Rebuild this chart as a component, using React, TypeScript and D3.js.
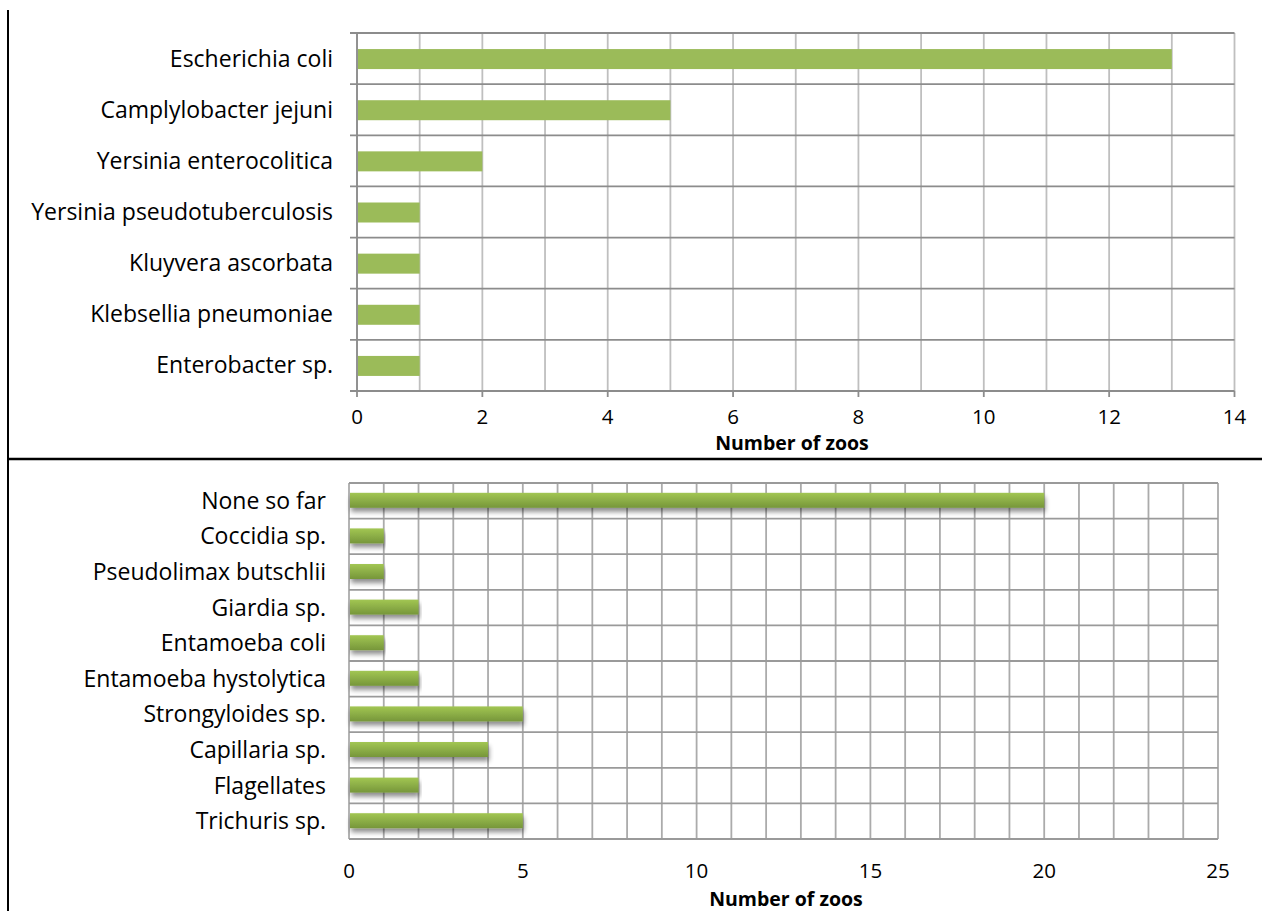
import React from "react";
import * as d3 from "d3";

const bacteriaCategories = [
  "Escherichia coli",
  "Camplylobacter jejuni",
  "Yersinia enterocolitica",
  "Yersinia pseudotuberculosis",
  "Kluyvera ascorbata",
  "Klebsellia pneumoniae",
  "Enterobacter sp.",
];
const bacteriaValues = [13, 5, 2, 1, 1, 1, 1];
const bacteriaTicks = [0, 2, 4, 6, 8, 10, 12, 14];

const parasiteCategories = [
  "None so far",
  "Coccidia sp.",
  "Pseudolimax butschlii",
  "Giardia sp.",
  "Entamoeba coli",
  "Entamoeba hystolytica",
  "Strongyloides sp.",
  "Capillaria sp.",
  "Flagellates",
  "Trichuris sp.",
];
const parasiteValues = [20, 1, 1, 2, 1, 2, 5, 4, 2, 5];
const parasiteTicks = [0, 5, 10, 15, 20, 25];

const axisTitle = "Number of zoos";
const FONT = "'Open Sans', Lato, sans-serif";
const LABEL_SIZE = 23;
const TICK_SIZE = 20.5;
const TITLE_SIZE = 19.5;

function TopChart() {
  const left = 357, right = 1234.5, top = 33, bottom = 391;
  const x = d3.scaleLinear().domain([0, 14]).range([left, right]);
  const y = d3.scaleBand().domain(bacteriaCategories).range([top, bottom]).paddingInner(0).paddingOuter(0);
  const minor = d3.range(0, 15, 1);
  const barH = 20;
  return (
    <g>
      {minor.map((v) => (
        <line key={"v" + v} x1={x(v)} x2={x(v)} y1={top} y2={bottom} stroke="#bfbfbf" strokeWidth={1.8} />
      ))}
      {bacteriaCategories.map((c) => (
        <line key={"h" + c} x1={left - 7} x2={right} y1={y(c)!} y2={y(c)!} stroke="#8c8c8c" strokeWidth={1.8} />
      ))}
      <line x1={left - 7} x2={right} y1={bottom} y2={bottom} stroke="#8c8c8c" strokeWidth={1.8} />
      <line x1={left} x2={left} y1={top} y2={bottom} stroke="#8c8c8c" strokeWidth={1.8} />
      {bacteriaTicks.map((t) => (
        <line key={"t" + t} x1={x(t)} x2={x(t)} y1={bottom} y2={bottom + 6} stroke="#8c8c8c" strokeWidth={1.8} />
      ))}
      {bacteriaCategories.map((c, i) => (
        <rect key={"b" + c} x={x(0) + 1} y={y(c)! + y.bandwidth() / 2 - barH / 2 + 0.5} width={x(bacteriaValues[i]) - x(0) - 1} height={barH} fill="#9bbb59" />
      ))}
      {bacteriaCategories.map((c) => (
        <text key={"l" + c} x={333} y={y(c)! + y.bandwidth() / 2} dy="0.35em" textAnchor="end" fontSize={LABEL_SIZE} fontFamily={FONT} fill="#000">{c}</text>
      ))}
      {bacteriaTicks.map((t) => (
        <text key={"tl" + t} x={x(t)} y={416.5} dy="0.35em" textAnchor="middle" fontSize={TICK_SIZE} fontFamily={FONT} fill="#000">{t}</text>
      ))}
      <text x={792} y={443} dy="0.35em" textAnchor="middle" fontSize={TITLE_SIZE} fontWeight="bold" fontFamily={FONT} fill="#000">{axisTitle}</text>
    </g>
  );
}

function BottomChart() {
  const left = 349, right = 1218, top = 483, bottom = 839;
  const x = d3.scaleLinear().domain([0, 25]).range([left, right]);
  const y = d3.scaleBand().domain(parasiteCategories).range([top, bottom]);
  const minor = d3.range(0, 26, 1);
  const barH = 15;
  return (
    <g>
      <defs>
        <linearGradient id="barGrad" x1="0" y1="0" x2="0" y2="1">
          <stop offset="0" stopColor="#a2c653" />
          <stop offset="1" stopColor="#76963a" />
        </linearGradient>
        <filter id="shadow" x="-5%" y="-50%" width="110%" height="250%">
          <feGaussianBlur in="SourceAlpha" stdDeviation="2.5" />
          <feOffset dx="1" dy="4" result="ob" />
          <feComponentTransfer>
            <feFuncA type="linear" slope="0.45" />
          </feComponentTransfer>
          <feMerge>
            <feMergeNode />
            <feMergeNode in="SourceGraphic" />
          </feMerge>
        </filter>
      </defs>
      {minor.map((v) => (
        <line key={"v" + v} x1={x(v)} x2={x(v)} y1={top} y2={bottom} stroke="#ababab" strokeWidth={1.8} />
      ))}
      {parasiteCategories.map((c) => (
        <line key={"h" + c} x1={left} x2={right} y1={y(c)!} y2={y(c)!} stroke="#9a9a9a" strokeWidth={1.8} />
      ))}
      <line x1={left} x2={right} y1={bottom} y2={bottom} stroke="#9a9a9a" strokeWidth={1.8} />
      {parasiteCategories.map((c, i) => (
        <rect key={"b" + c} x={x(0) + 1} y={y(c)! + y.bandwidth() / 2 - barH / 2 - 0.5} width={x(parasiteValues[i]) - x(0) - 1} height={barH} fill="url(#barGrad)" filter="url(#shadow)" />
      ))}
      {parasiteCategories.map((c) => (
        <text key={"l" + c} x={326} y={y(c)! + y.bandwidth() / 2} dy="0.35em" textAnchor="end" fontSize={LABEL_SIZE} fontFamily={FONT} fill="#000">{c}</text>
      ))}
      {parasiteTicks.map((t) => (
        <text key={"tl" + t} x={x(t)} y={871} dy="0.35em" textAnchor="middle" fontSize={TICK_SIZE} fontFamily={FONT} fill="#000">{t}</text>
      ))}
      <text x={786} y={899} dy="0.35em" textAnchor="middle" fontSize={TITLE_SIZE} fontWeight="bold" fontFamily={FONT} fill="#000">{axisTitle}</text>
    </g>
  );
}

export default function App() {
  return (
    <svg width={1262} height={911} style={{ position: "absolute", left: 0, top: 0, background: "#fff" }}>
      <rect x={0} y={0} width={1262} height={911} fill="#fff" />
      <line x1={8} x2={8} y1={10} y2={911} stroke="#000" strokeWidth={2} />
      <line x1={8} x2={1262} y1={459} y2={459} stroke="#000" strokeWidth={2.4} />
      <TopChart />
      <BottomChart />
    </svg>
  );
}
